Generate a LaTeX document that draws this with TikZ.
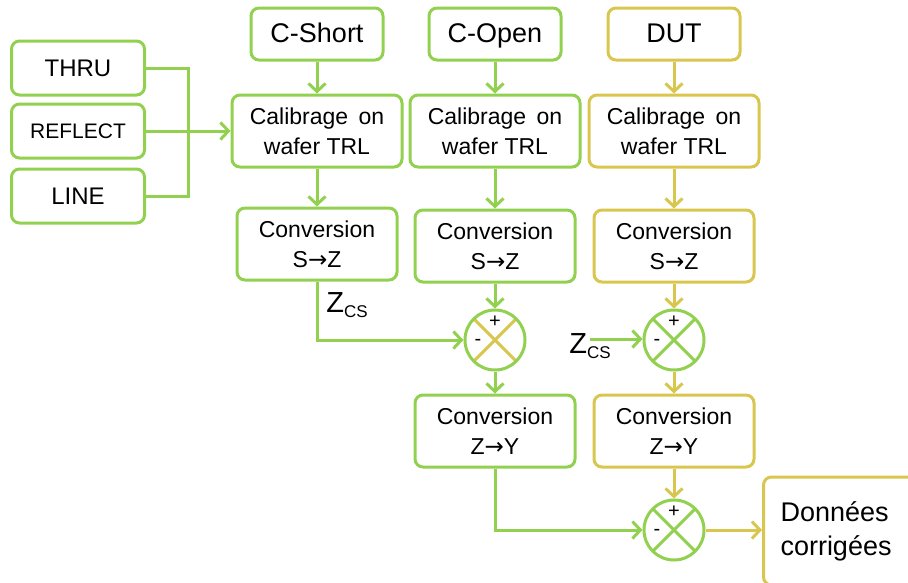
\documentclass[tikz,border=0pt]{standalone}
\usepackage{fontspec}
\setmainfont{Liberation Sans}
\newfontfamily\arrowfont{DejaVu Sans}
\usetikzlibrary{arrows.meta,positioning,calc}
\definecolor{cgreen}{RGB}{146,208,80}
\definecolor{cyellow}{RGB}{217,198,78}
\newcommand{\conv}[2]{Conversion\\#1{\arrowfont →}#2}

\begin{document}
\begin{tikzpicture}[
  x=1pt,y=-1pt,
  box/.style={rounded corners=8pt,draw,line width=3pt,align=center,
              inner sep=0pt,font=\fontsize{23}{30}\selectfont},
  gbox/.style={box,draw=cgreen},
  ybox/.style={box,draw=cyellow},
  head/.style={minimum width=132pt,minimum height=52pt,text height=19pt,text depth=2pt,
               font=\fontsize{27}{30}\selectfont},
  stdbox/.style={minimum width=133pt,minimum height=54pt,font=\fontsize{24}{28}\selectfont},
  calbox/.style={minimum width=170pt,minimum height=72pt},
  convbox/.style={minimum width=160pt,minimum height=72pt},
  sum/.style={circle,draw=cgreen,line width=3pt,minimum size=60pt,inner sep=0pt,
              path picture={\draw[#1,line width=3pt]
                (path picture bounding box.north west) -- (path picture bounding box.south east)
                (path picture bounding box.north east) -- (path picture bounding box.south west);}},
  sgn/.style={font=\fontsize{20}{20}\selectfont,inner sep=0pt},
  zlab/.style={inner sep=0pt,font=\fontsize{29}{29}\selectfont},
  arr/.style={-{Straight Barb[length=8pt,width=17pt]},line width=3pt},
  ln/.style={line width=3pt},
  ]
  \useasboundingbox (0,0) rectangle (908,582);
  % standards
  \node[gbox,stdbox] (thru) at (78,68)  {THRU};
  \node[gbox,stdbox,font=\fontsize{21}{24}\selectfont] (refl) at (78,131) {REFLECT};
  \node[gbox,stdbox] (line) at (78,196) {LINE};
  \coordinate (jn) at (188,131);
  % C-Short column
  \node[gbox,head]    (cshort) at (317,34)  {C-Short};
  \node[gbox,calbox]  (cal1)   at (317,131) {Calibrage\hspace{4pt} on\\wafer TRL};
  \node[gbox,convbox] (sz1)    at (317,244) {\conv{S}{Z}};
  \node[zlab] (zcs1) at (347,305) {Z\raisebox{-5pt}{\fontsize{17}{17}\selectfont CS}};
  % C-Open column
  \node[gbox,head]    (copen) at (495,34)  {C-Open};
  \node[gbox,calbox]  (cal2)  at (495,131) {Calibrage\hspace{4pt} on\\wafer TRL};
  \node[gbox,convbox] (sz2)   at (495,246) {\conv{S}{Z}};
  \node[sum=cyellow]  (s1)    at (495,340) {};
  \node[gbox,convbox] (zy2)   at (495,431) {\conv{Z}{Y}};
  % DUT column
  \node[ybox,head]    (dut)  at (674,34)  {DUT};
  \node[ybox,calbox]  (cal3) at (674,131) {Calibrage\hspace{4pt} on\\wafer TRL};
  \node[ybox,convbox] (sz3)  at (674,246) {\conv{S}{Z}};
  \node[sum=cgreen]   (s2)   at (674,340) {};
  \node[ybox,convbox] (zy3)  at (674,431) {\conv{Z}{Y}};
  \node[sum=cgreen]   (s3)   at (674,530) {};
  \node[zlab] (zcs2) at (590,346) {Z\raisebox{-5pt}{\fontsize{17}{17}\selectfont CS}};
  \coordinate (zin) at (590,339);
  \node[ybox,anchor=west,text width=136pt,align=left,inner xsep=17pt,
        minimum height=108pt,font=\fontsize{27}{34}\selectfont]
    (out) at (762,531) {Données\\corrigées};
  % signs
  \foreach \s in {s1,s2,s3}{
    \node[sgn] at ($(\s)+(0,-18)$) {+};
    \node[sgn] at ($(\s)+(-17,2)$) {-};
  }
  % connectors
  \draw[ln,cgreen] (thru.east) -| (jn) |- (line.east);
  \draw[arr,cgreen] (refl.east) -- (cal1.west);
  \draw[arr,cgreen] (cshort) -- (cal1);
  \draw[arr,cgreen] (cal1) -- (sz1);
  \draw[arr,cgreen] (sz1.south) |- (s1.west);
  \draw[arr,cgreen] (copen) -- (cal2);
  \draw[arr,cgreen] (cal2) -- (sz2);
  \draw[arr,cgreen] (sz2) -- (s1);
  \draw[arr,cgreen] (s1) -- (zy2);
  \draw[arr,cgreen] (zy2.south) |- (s3.west);
  \draw[arr,cyellow] (dut) -- (cal3);
  \draw[arr,cyellow] (cal3) -- (sz3);
  \draw[arr,cyellow] (sz3) -- (s2);
  \draw[arr,cyellow] (s2) -- (zy3);
  \draw[arr,cyellow] (zy3) -- (s3);
  \draw[arr,cyellow] (s3.east) -- (s3.east -| out.west);
  \draw[arr,cgreen] (zin) -- (zin -| s2.west);
\end{tikzpicture}
\end{document}
